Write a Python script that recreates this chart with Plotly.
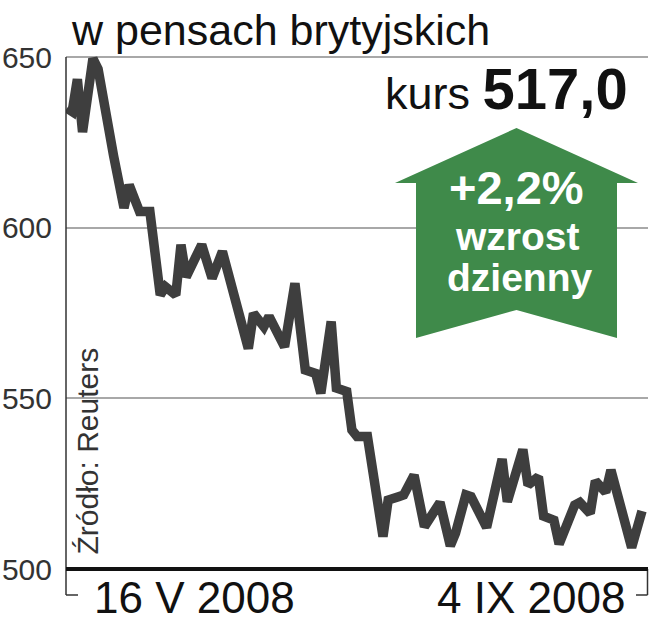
import plotly.graph_objects as go

# ---- data ----
dates = [
    "2008-05-16", "2008-05-17", "2008-05-18", "2008-05-19", "2008-05-21", "2008-05-22",
    "2008-05-25", "2008-05-27", "2008-05-28", "2008-05-30", "2008-06-01", "2008-06-03",
    "2008-06-04", "2008-06-06", "2008-06-07", "2008-06-08", "2008-06-11", "2008-06-13",
    "2008-06-15", "2008-06-20", "2008-06-21", "2008-06-23", "2008-06-24", "2008-06-27",
    "2008-06-29", "2008-07-01", "2008-07-03", "2008-07-04", "2008-07-06", "2008-07-07",
    "2008-07-09", "2008-07-10", "2008-07-11", "2008-07-13", "2008-07-16", "2008-07-17",
    "2008-07-19", "2008-07-20", "2008-07-22", "2008-07-24", "2008-07-27", "2008-07-29",
    "2008-07-30", "2008-08-01", "2008-08-02", "2008-08-05", "2008-08-08", "2008-08-09",
    "2008-08-12", "2008-08-13", "2008-08-15", "2008-08-16", "2008-08-18", "2008-08-19",
    "2008-08-22", "2008-08-23", "2008-08-25", "2008-08-26", "2008-08-28", "2008-08-29",
    "2008-09-02", "2008-09-04",
]
prices = [
    635.0, 634.0, 643.5, 628.0, 649.5, 646.5,
    621.0, 605.8, 612.5, 604.7, 604.7, 580.3,
    582.7, 580.3, 595.0, 585.6, 595.0, 585.2,
    593.0, 564.6, 574.9, 571.0, 574.0, 565.1,
    583.7, 558.3, 557.3, 551.5, 572.5, 553.0,
    552.0, 540.7, 538.8, 538.8, 509.5, 520.2,
    521.2, 521.7, 527.5, 512.4, 519.5, 506.8,
    510.5, 521.7, 521.2, 512.2, 532.2, 519.7,
    535.0, 524.6, 527.0, 515.5, 514.3, 507.3,
    518.7, 519.5, 516.3, 525.8, 522.5, 529.0,
    506.3, 517.0,
]
y_ticks = [500, 550, 600, 650]
y_tick_labels = ["500", "550", "600", "650"]
title_text = "w pensach brytyjskich"
price_label = "kurs"
price_value = "517,0"
change_text = "+2,2%"
change_words = ["wzrost", "dzienny"]
date_labels = ["16 V 2008", "4 IX 2008"]
source_text = "Źródło: Reuters"

# ---- layout geometry (pixels) ----
W, H = 651, 640
L, R, T, B = 66, 648, 51, 569
PW, PH = R - L, B - T


def px(x):
    return (x - L) / PW


def py(y):
    return (B - y) / PH


FONT = "Liberation Sans, Arial, sans-serif"
GREEN = "#3f8a4a"

fig = go.Figure()
fig.add_trace(go.Scatter(
    x=dates, y=prices, mode="lines",
    line=dict(color="#3e3e3e", width=9.5),
    hoverinfo="skip", showlegend=False,
))

arrow_pts = [(395, 183), (516.5, 128), (638, 183), (617, 183), (617, 338),
             (516.5, 310), (416, 338), (416, 183)]
path = "M " + " L ".join(f"{px(x):.5f},{py(y):.5f}" for x, y in arrow_pts) + " Z"

shapes = [
    dict(type="path", path=path, xref="paper", yref="paper",
         fillcolor=GREEN, line=dict(width=0), layer="above"),
    dict(type="line", xref="paper", yref="paper", x0=px(66), x1=px(66),
         y0=py(57), y1=py(595), line=dict(color="#333333", width=1.5)),
    dict(type="line", xref="paper", yref="paper", x0=px(66), x1=px(78),
         y0=py(595), y1=py(595), line=dict(color="#333333", width=1.5)),
    dict(type="line", xref="paper", yref="paper", x0=px(647.5), x1=px(647.5),
         y0=py(569), y1=py(595), line=dict(color="#333333", width=1.5)),
    dict(type="line", xref="paper", yref="paper", x0=px(636), x1=px(647.5),
         y0=py(595), y1=py(595), line=dict(color="#333333", width=1.5)),
    dict(type="line", xref="paper", yref="paper", x0=px(66), x1=px(648),
         y0=py(569), y1=py(569), line=dict(color="#111111", width=4)),
]


def ann(text, x, y, xanchor, yanchor, family, size, color, **kw):
    return dict(text=text, x=px(x), y=py(y), xref="paper", yref="paper",
                xanchor=xanchor, yanchor=yanchor, showarrow=False,
                font=dict(family=family, size=size, color=color), **kw)


annotations = [
    ann(title_text, 69, 30, "left", "middle", FONT, 43, "#111111"),
    ann(f"{price_label} <span style='font-size:58px'><b>{price_value}</b></span>",
        630, 89, "right", "middle", FONT, 45, "#111111"),
    ann(f"<b>{change_text}</b>", 516.5, 187, "center", "middle", FONT, 47, "white"),
    ann(f"<b>{change_words[0]}</b>", 517, 237, "center", "middle", FONT, 39, "white"),
    ann(f"<b>{change_words[1]}</b>", 519, 277, "center", "middle", FONT, 39, "white"),
    ann(date_labels[0], 92, 597, "left", "middle", FONT, 44, "#111111"),
    ann(date_labels[1], 627, 597, "right", "middle", FONT, 44, "#111111"),
    ann(source_text, 87, 557, "center", "bottom", FONT, 30, "#333333", textangle=-90),
]

fig.update_layout(
    width=W, height=H,
    margin=dict(l=L, r=W - R, t=T, b=H - B, pad=0),
    paper_bgcolor="white", plot_bgcolor="white",
    shapes=shapes, annotations=annotations,
    xaxis=dict(type="date", range=["2008-05-15 19:20", "2008-09-05 03:50"],
               showticklabels=False, showgrid=False, zeroline=False, showline=False,
               fixedrange=True),
    yaxis=dict(range=[500, 500 + 150 * PH / 512], tickvals=y_ticks, ticktext=y_tick_labels,
               showgrid=True, gridcolor="#a8a8a8", gridwidth=1.5, zeroline=False,
               showline=False, ticks="", ticklabelstandoff=13,
               tickfont=dict(family=FONT, size=30, color="#333333"), fixedrange=True),
)

fig.write_html("out.html", config={"displayModeBar": False},
               post_script="document.body.style.margin='0px';")
